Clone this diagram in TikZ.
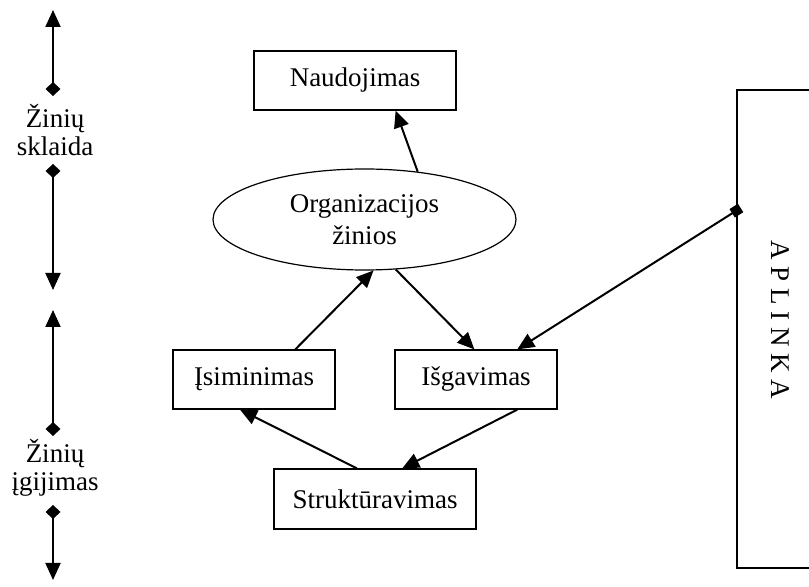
\documentclass[tikz,border=0pt]{standalone}
\usepackage{fontspec}
\setmainfont{Liberation Serif}
\usetikzlibrary{arrows.meta,shapes.geometric,calc}
\begin{document}
\begin{tikzpicture}[x=0.5pt,y=-0.5pt,
  txt/.style={font=\fontsize{13.5}{16}\selectfont},
  box/.style={txt,draw,line width=0.6pt,inner sep=0pt,minimum width=#1,minimum height=29.5pt},
  oval/.style={txt,draw,ellipse,line width=0.6pt,inner sep=0pt,minimum width=151.5pt,minimum height=50.5pt,align=center},
  conn/.style={line width=1pt,-{Triangle[width=7.5pt,length=8.5pt]}},
  side/.style={line width=1pt,{Diamond[width=7.5pt,length=7pt]}-{Triangle[width=7.5pt,length=8.5pt]}},
  sidelabel/.style={font=\fontsize{13.5}{14}\selectfont,align=center,inner sep=0pt}
]
\useasboundingbox (0,0) rectangle (809,587);
\clip (0,0) rectangle (809,587);

% main nodes
\node[box=101pt] (naud) at (355,80.5) {Naudojimas};
\node[oval] (org) at (364.5,219.5) {Organizacijos\\žinios};
\node[box=81pt] (isim) at (254,379.5) {Įsiminimas};
\node[box=81pt] (isg) at (476,379.5) {Išgavimas};
\node[box=101pt,minimum height=30pt] (strukt) at (375,499) {Struktūravimas};

% environment box
\node[draw,line width=0.6pt,minimum width=43pt,minimum height=239pt,inner sep=0pt] (aplinka) at (780,329) {};
\node[txt,rotate=-90] (aplinkatxt) at (780,320) {A P L I N K A};

% connectors
\draw[conn] (org.42.7) -- ($(naud.south west)!0.7!(naud.south east)$);
\draw[conn] ($(isim.north west)!0.753!(isim.north east)$) -- (org.-80);
\draw[conn] (org.-58) -- ($(isg.north west)!0.49!(isg.north east)$);
\draw[conn] ($(strukt.north west)!0.411!(strukt.north east)$) -- ($(isim.south west)!0.414!(isim.south east)$);
\draw[conn] ($(isg.south west)!0.753!(isg.south east)$) -- ($(strukt.north west)!0.634!(strukt.north east)$);
\draw[line width=1pt,{Square[width=5pt,length=5pt]}-{Triangle[width=7.5pt,length=8.5pt]},shorten <=-2.5pt]
  ($(aplinka.north west)!0.253!(aplinka.south west)$) -- ($(isg.north west)!0.753!(isg.north east)$);

% side labels
\node[sidelabel] (sklaida) at (55,130) {Žinių\\sklaida};
\node[sidelabel] (igijimas) at (55,468) {Žinių\\įgijimas};
\coordinate (s1a) at (53,96);
\coordinate (s1b) at (53,10);
\coordinate (s2a) at (53,164);
\coordinate (s2b) at (53,290);
\coordinate (s3a) at (53,436);
\coordinate (s3b) at (53,310);
\coordinate (s4a) at (53,505);
\coordinate (s4b) at (53,580);
\draw[side] (s1a) -- (s1b);
\draw[side] (s2a) -- (s2b);
\draw[side] (s3a) -- (s3b);
\draw[side] (s4a) -- (s4b);
\end{tikzpicture}
\end{document}
